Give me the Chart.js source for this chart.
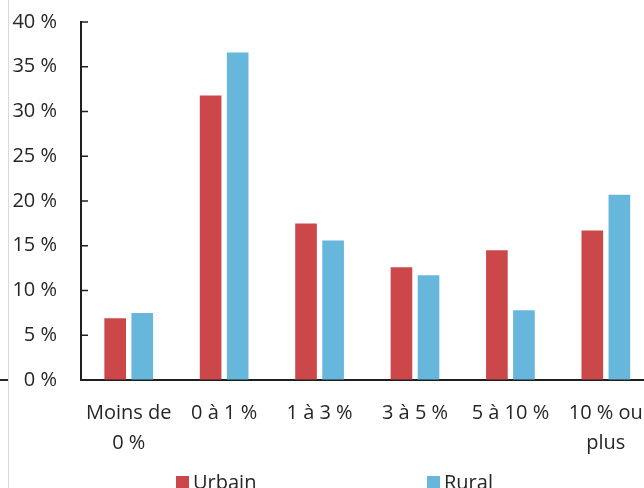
<!DOCTYPE html>
<html>
<head>
<meta charset="utf-8">
<script src="https://cdn.jsdelivr.net/npm/chart.js@4.4.1/dist/chart.umd.min.js"></script>
<style>
  body { margin: 0; overflow: hidden; background: #fff; }
  .wrap { position: relative; width: 644px; height: 488px; overflow: hidden; }
  #myChart { position: absolute; left: 0; top: 0; }
  .edge { position: absolute; left: 8px; top: 0; width: 1px; height: 488px; background: #d9d9d9; }
  .dash { position: absolute; left: 0; top: 379px; width: 8px; height: 2px; background: #262626; }
  .legend-item { position: absolute; top: 472px; font-family: 'Open Sans', sans-serif; font-size: 20px; line-height: 20px; color: #262626; white-space: nowrap; }
  .legend-box { display: inline-block; width: 13px; height: 13px; margin-right: 4px; vertical-align: top; margin-top: 4px; }
</style>
</head>
<body>
<div class="wrap">
  <div class="edge"></div>
  <div class="dash"></div>
  <canvas id="myChart" width="661" height="488"></canvas>
  <div id="legend"></div>
</div>
<script>
const categories = [['Moins de', '0 %'], '0 à 1 %', '1 à 3 %', '3 à 5 %', '5 à 10 %', ['10 % ou', 'plus']];
const urbain = [6.9, 31.8, 17.5, 12.6, 14.5, 16.7];
const rural = [7.5, 36.6, 15.6, 11.7, 7.8, 20.7];
const seriesNames = ['Urbain', 'Rural'];
const seriesColors = ['#cb474a', '#67b6db'];
const yTicks = [0, 5, 10, 15, 20, 25, 30, 35, 40];

const textColor = '#262626';
const axisColor = '#1f1f1f';
const font = { family: "'Open Sans', sans-serif", size: 20 };

// short tick marks drawn inside the plot, like the original
const innerTicks = {
  id: 'innerTicks',
  afterDraw(chart) {
    const y = chart.scales.y;
    const ctx = chart.ctx;
    ctx.save();
    ctx.strokeStyle = axisColor;
    ctx.lineWidth = 1.5;
    y.ticks.forEach((t, i) => {
      if (t.value === 0) return;
      const py = y.getPixelForTick(i);
      ctx.beginPath();
      ctx.moveTo(y.right - 1, py);
      ctx.lineTo(y.right + 7, py);
      ctx.stroke();
    });
    ctx.restore();
  },
};

const ctx = document.getElementById('myChart');

new Chart(ctx, {
  type: 'bar',
  plugins: [innerTicks],
  data: {
    labels: categories,
    datasets: [
      {
        label: seriesNames[0],
        data: urbain,
        backgroundColor: seriesColors[0],
        categoryPercentage: 0.567,
        barPercentage: 0.8,
      },
      {
        label: seriesNames[1],
        data: rural,
        backgroundColor: seriesColors[1],
        categoryPercentage: 0.567,
        barPercentage: 0.8,
      },
    ],
  },
  options: {
    responsive: false,
    animation: false,
    layout: { padding: { top: 22, right: 1.4, left: 0, bottom: 0 } },
    plugins: {
      legend: { display: false },
      tooltip: { enabled: false },
    },
    scales: {
      x: {
        grid: { display: false, drawTicks: false },
        border: { display: true, color: axisColor, width: 2 },
        ticks: {
          color: textColor,
          font: { ...font, lineHeight: 1.5 },
          padding: 18,
          maxRotation: 0,
          autoSkip: false,
        },
        afterFit: (scale) => { scale.height = 108; },
      },
      y: {
        min: 0,
        max: 40,
        // invisible outer ticks only push the labels away from the axis
        grid: { display: true, color: 'transparent', drawOnChartArea: false, drawTicks: true, tickLength: 21 },
        border: { display: true, color: axisColor, width: 2 },
        afterBuildTicks: (scale) => { scale.ticks = yTicks.map((v) => ({ value: v })); },
        ticks: {
          color: textColor,
          font: font,
          padding: 3,
          callback: (value) => value + ' %',
        },
        afterFit: (scale) => { scale.width = 81; },
      },
    },
  },
});

// legend placed like the original (wide gap between items)
const legendLeft = [176, 427];
const legend = document.getElementById('legend');
seriesNames.forEach((name, i) => {
  const item = document.createElement('div');
  item.className = 'legend-item';
  item.style.left = legendLeft[i] + 'px';
  item.innerHTML = '<span class="legend-box" style="background:' + seriesColors[i] + '"></span>' + name;
  legend.appendChild(item);
});
</script>
</body>
</html>
